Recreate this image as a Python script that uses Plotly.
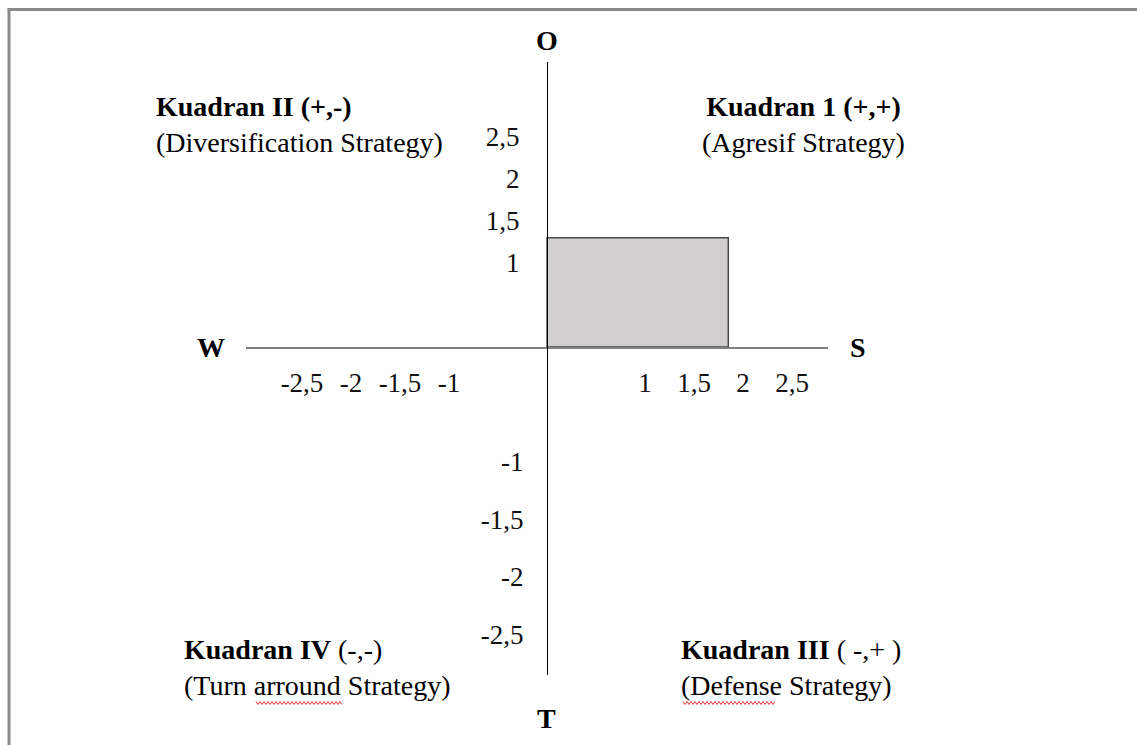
import plotly.graph_objects as go

# ---------------- data ----------------
strength_weakness = 1.85      # S - W (x)
opportunity_threat = 1.3      # O - T (y)

x_tick_vals = [-2.5, -2, -1.5, -1, 1, 1.5, 2, 2.5]
x_tick_text = ["-2,5", "-2", "-1,5", "-1", "1", "1,5", "2", "2,5"]
y_pos_vals = [1, 1.5, 2, 2.5]
y_pos_text = ["1", "1,5", "2", "2,5"]
y_neg_vals = [-1, -1.5, -2, -2.5]
y_neg_text = ["-1", "-1,5", "-2", "-2,5"]

axis_letters = ["O", "W", "S", "T"]
quadrant_1 = ["<b>Kuadran 1 (+,+)</b>", "(Agresif Strategy)"]
quadrant_2 = ["<b>Kuadran II (+,-)</b>", "(Diversification Strategy)"]
quadrant_3 = ["<b>Kuadran III</b> ( -,+ )", "(Defense Strategy)"]
quadrant_4 = ["<b>Kuadran IV</b> (-,-)", "(Turn arround Strategy)"]

# ---------------- geometry ----------------
W, H = 1137, 745
PL, PR, PT, PB = 246, 828, 62, 675     # plot area (pixels)
OX, OY = 547, 347                      # axis crossing (pixels)
KX, KY1, KY2 = 98, 84, 115             # pixels per unit

def px(x):
    return (x - PL) / (PR - PL)

def py(y):
    return (PB - y) / (PB - PT)

xc, yc = px(OX), py(OY)
FONT = "Liberation Serif"
TXT = 28
TICK = 27

fig = go.Figure()
fig.add_trace(go.Scatter(
    x=[0, strength_weakness, strength_weakness, 0, 0],
    y=[0, 0, opportunity_threat, opportunity_threat, 0],
    fill="toself", fillcolor="#d0cecf", mode="lines",
    line=dict(color="#4a4a4a", width=1.5),
    xaxis="x", yaxis="y", hoverinfo="skip", showlegend=False))
fig.add_trace(go.Scatter(x=[0], y=[0], mode="none", xaxis="x", yaxis="y2",
                         hoverinfo="skip", showlegend=False))

common = dict(showgrid=False, zeroline=False, ticks="", fixedrange=True,
              tickfont=dict(family=FONT, size=TICK, color="#111"))

fig.update_layout(
    width=W, height=H,
    margin=dict(l=PL, r=W - PR, t=PT, b=H - PB, pad=0),
    paper_bgcolor="white", plot_bgcolor="white",
    showlegend=False,
    xaxis=dict(domain=[0, 1], range=[-(OX - PL) / KX, (PR - OX) / KX],
               anchor="y", showline=True, linecolor="#808080", linewidth=2,
               tickvals=x_tick_vals, ticktext=x_tick_text,
               ticklabelstandoff=11, **common),
    yaxis=dict(domain=[yc, 1], range=[0, (OY - PT) / KY1],
               anchor="free", position=xc, showline=True, linecolor="#000",
               linewidth=1, tickvals=y_pos_vals, ticktext=y_pos_text,
               ticklabelstandoff=22, **common),
    yaxis2=dict(domain=[0, yc], range=[-(PB - OY) / KY2, 0],
                anchor="free", position=xc, showline=True, linecolor="#000",
                linewidth=1, tickvals=y_neg_vals, ticktext=y_neg_text,
                ticklabelstandoff=18, **common),
)

ann = []
def add(text, x, y, xa="center", align="center", size=TXT):
    ann.append(dict(text=text, x=px(x), y=py(y), xref="paper", yref="paper",
                    xanchor=xa, yanchor="middle", align=align, showarrow=False,
                    font=dict(family=FONT, size=size, color="#000")))

for letter, (lx, ly) in zip(axis_letters, [(547, 40), (211, 347), (858, 347), (546, 718)]):
    add("<b>%s</b>" % letter, lx, ly)

add("<br>".join(quadrant_2), 154, 125, xa="left", align="left")
add("<br>".join(quadrant_1), 803, 125, xa="center", align="center")
add("<br>".join(quadrant_4), 182, 667, xa="left", align="left")
add("<br>".join(quadrant_3), 679, 667, xa="left", align="left")

fig.update_layout(annotations=ann)

# page frame (partially visible)
fig.add_shape(type="line", xref="paper", yref="paper",
              x0=px(9), x1=px(9), y0=py(760), y1=py(9.5),
              line=dict(color="#8a8a8a", width=3))
fig.add_shape(type="line", xref="paper", yref="paper",
              x0=px(7.5), x1=px(1150), y0=py(9.5), y1=py(9.5),
              line=dict(color="#8a8a8a", width=3))

# spell-check squiggles under "arround" and "Defense"
def squiggle(x0, x1, y):
    pts = []
    x, k = x0, 0
    while x <= x1:
        yy = y + (1.5 if k % 2 else -1.5)
        pts.append("%s%.5f,%.5f" % ("M" if k == 0 else "L", px(x), py(yy)))
        x += 2
        k += 1
    return " ".join(pts)

for sx0, sx1 in [(256, 343), (683, 776)]:
    fig.add_shape(type="path", xref="paper", yref="paper",
                  path=squiggle(sx0, sx1, 703),
                  line=dict(color="#e03030", width=1))

fig.write_html("out.html", config={"displayModeBar": False},
               post_script="document.body.style.margin='0';document.body.style.overflow='hidden';")
